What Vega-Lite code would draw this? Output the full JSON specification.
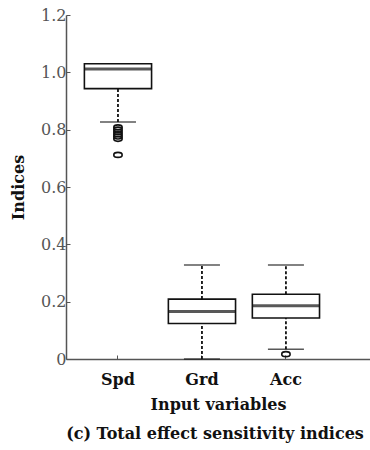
{
  "$schema": "https://vega.github.io/schema/vega-lite/v6.json",
  "autosize": {"type": "none"},
  "width": 304,
  "height": 344,
  "padding": {"left": 66, "top": 15, "right": 0, "bottom": 91},
  "background": "white",
  "config": {
    "view": {"stroke": null},
    "font": "DejaVu Serif"
  },
  "title": {
    "text": "(c)  Total effect sensitivity indices",
    "orient": "bottom",
    "anchor": "middle",
    "font": "DejaVu Serif",
    "fontSize": 16,
    "fontWeight": "bold",
    "color": "#111",
    "offset": 14,
    "dx": -3
  },
  "datasets": {
    "boxes": [
      {"var": "Spd", "lower": 0.827, "q1": 0.943, "median": 1.012, "q3": 1.03, "upper": 1.03},
      {"var": "Grd", "lower": 0.0, "q1": 0.124, "median": 0.166, "q3": 0.209, "upper": 0.328},
      {"var": "Acc", "lower": 0.034, "q1": 0.143, "median": 0.186, "q3": 0.226, "upper": 0.328}
    ],
    "outliers": [
      {"var": "Spd", "value": 0.808},
      {"var": "Spd", "value": 0.8},
      {"var": "Spd", "value": 0.792},
      {"var": "Spd", "value": 0.784},
      {"var": "Spd", "value": 0.776},
      {"var": "Spd", "value": 0.768},
      {"var": "Spd", "value": 0.712},
      {"var": "Acc", "value": 0.017}
    ]
  },
  "encoding": {
    "x": {
      "field": "var",
      "type": "nominal",
      "sort": ["Spd", "Grd", "Acc"],
      "scale": {"domain": ["Spd", "Grd", "Acc"], "paddingInner": 0.2, "paddingOuter": 0.41, "align": 0.267},
      "axis": {
        "title": "Input variables",
        "labelAngle": 0,
        "labelFont": "DejaVu Serif",
        "labelFontSize": 16,
        "labelFontWeight": "bold",
        "labelColor": "#111",
        "labelPadding": 16,
        "titleFont": "DejaVu Serif",
        "titleFontSize": 16,
        "titleFontWeight": "bold",
        "titleColor": "#111",
        "titlePadding": 9,
        "domainColor": "#555",
        "domainWidth": 1.5,
        "tickColor": "#555",
        "tickSize": -4,
        "tickWidth": 1
      }
    }
  },
  "layer": [
    {
      "data": {"name": "boxes"},
      "mark": {"type": "rule", "strokeDash": [3, 2], "strokeWidth": 1.8, "color": "#111"},
      "encoding": {
        "y": {
          "field": "q3",
          "type": "quantitative",
          "scale": {"domain": [0, 1.2], "nice": false, "zero": true},
          "axis": {
            "title": "Indices",
            "values": [0, 0.2, 0.4, 0.6, 0.8, 1.0, 1.2],
            "labelExpr": "datum.value == 0 ? '0' : format(datum.value, '.1f')",
            "grid": false,
            "labelFont": "DejaVu Serif",
            "labelFontSize": 16,
            "labelColor": "#555",
            "labelPadding": 4,
            "titleFont": "DejaVu Serif",
            "titleFontSize": 16,
            "titleFontWeight": "bold",
            "titleColor": "#111",
            "titlePadding": 14,
            "domainColor": "#555",
            "domainWidth": 1.5,
            "tickColor": "#555",
            "tickSize": -4,
            "tickWidth": 1
          }
        },
        "y2": {"field": "upper"}
      }
    },
    {
      "data": {"name": "boxes"},
      "mark": {"type": "rule", "strokeDash": [3, 2], "strokeWidth": 1.8, "color": "#111"},
      "encoding": {
        "y": {"field": "lower", "type": "quantitative"},
        "y2": {"field": "q1"}
      }
    },
    {
      "data": {"name": "boxes"},
      "mark": {"type": "tick", "size": 36, "thickness": 1.5, "color": "#111", "orient": "horizontal"},
      "encoding": {
        "y": {"field": "upper", "type": "quantitative"}
      }
    },
    {
      "data": {"name": "boxes"},
      "mark": {"type": "tick", "size": 36, "thickness": 1.5, "color": "#111", "orient": "horizontal"},
      "encoding": {
        "y": {"field": "lower", "type": "quantitative"}
      }
    },
    {
      "data": {"name": "boxes"},
      "mark": {"type": "bar", "fill": "white", "stroke": "#111", "strokeWidth": 1.6},
      "encoding": {
        "y": {"field": "q1", "type": "quantitative"},
        "y2": {"field": "q3"}
      }
    },
    {
      "data": {"name": "boxes"},
      "mark": {"type": "tick", "size": 67, "thickness": 3, "color": "#111", "orient": "horizontal"},
      "encoding": {
        "y": {"field": "median", "type": "quantitative"}
      }
    },
    {
      "data": {"name": "outliers"},
      "mark": {
        "type": "point",
        "shape": "M-1,0A1,0.6 0 1,0 1,0A1,0.6 0 1,0 -1,0Z",
        "size": 70,
        "filled": false,
        "stroke": "#111",
        "strokeWidth": 1.6,
        "opacity": 1
      },
      "encoding": {
        "y": {"field": "value", "type": "quantitative"}
      }
    }
  ]
}
